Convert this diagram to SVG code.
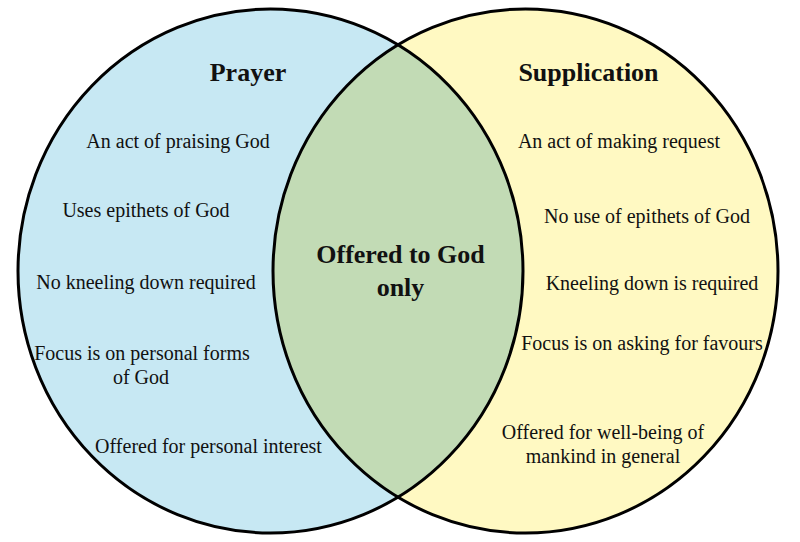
<svg xmlns="http://www.w3.org/2000/svg" width="800" height="542" viewBox="0 0 800 542">
<style>
.t{font-family:"Liberation Serif","Times New Roman",serif;font-size:20px;fill:#111;text-anchor:middle}
.h{font-family:"Liberation Serif","Times New Roman",serif;font-size:26px;font-weight:bold;fill:#111;text-anchor:middle}
.ring{fill:none;stroke:#000;stroke-width:3}
</style>
<defs>
<clipPath id="clipLeft"><ellipse cx="270.5" cy="271" rx="252.5" ry="262"/></clipPath>
</defs>
<rect width="800" height="542" fill="#fff"/>
<g id="prayer">
<ellipse cx="270.5" cy="271" rx="252.5" ry="262" fill="#C7E8F3"/>
</g>
<g id="supplication">
<ellipse cx="525.5" cy="271" rx="252.5" ry="262" fill="#FFF9C2"/>
</g>
<g id="overlap">
<ellipse cx="525.5" cy="271" rx="252.5" ry="262" fill="#C2DBB5" clip-path="url(#clipLeft)"/>
</g>
<g id="outlines">
<ellipse class="ring" cx="270.5" cy="271" rx="252.5" ry="262"/>
<ellipse class="ring" cx="525.5" cy="271" rx="252.5" ry="262"/>
</g>
<g id="prayer-text">
<text class="h" x="248" y="81">Prayer</text>
<text class="t" x="178" y="148">An act of praising God</text>
<text class="t" x="146" y="217">Uses epithets of God</text>
<text class="t" x="146" y="289">No kneeling down required</text>
<text class="t" x="142" y="360">Focus is on personal forms</text>
<text class="t" x="141" y="384">of God</text>
<text class="t" x="208.5" y="453">Offered for personal interest</text>
</g>
<g id="supplication-text">
<text class="h" x="588.5" y="81">Supplication</text>
<text class="t" x="619" y="148">An act of making request</text>
<text class="t" x="647" y="223">No use of epithets of God</text>
<text class="t" x="652" y="290">Kneeling down is required</text>
<text class="t" x="642" y="350">Focus is on asking for favours</text>
<text class="t" x="603" y="439">Offered for well-being of</text>
<text class="t" x="603" y="463">mankind in general</text>
</g>
<g id="overlap-text">
<text class="h" x="400.5" y="263">Offered to God</text>
<text class="h" x="400.5" y="296">only</text>
</g>
</svg>
